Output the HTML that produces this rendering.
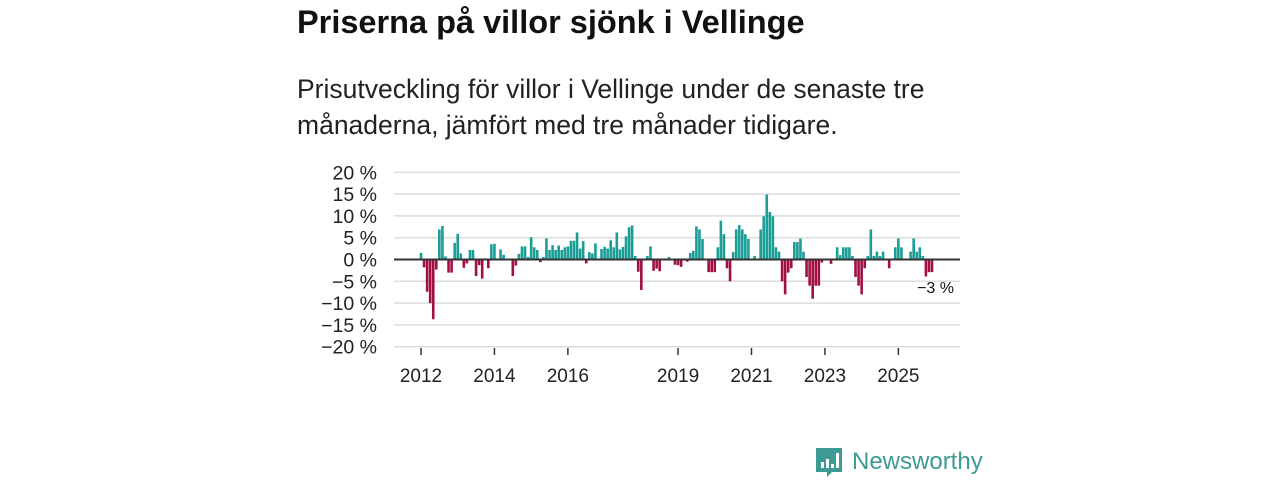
<!DOCTYPE html>
<html><head><meta charset="utf-8">
<style>
body{margin:0;background:#fff;width:1280px;height:480px;overflow:hidden;font-family:"Liberation Sans",sans-serif;color:#111}
#title{position:absolute;left:297px;top:4px;font-size:32.5px;font-weight:bold;margin:0}
#sub{position:absolute;left:297px;top:71px;font-size:26.5px;line-height:36px;width:700px;color:#222}
svg{position:absolute;left:0;top:0}
</style></head><body>
<h1 id="title">Priserna på villor sjönk i Vellinge</h1>
<div id="sub">Prisutveckling för villor i Vellinge under de senaste tre<br>månaderna, jämfört med tre månader tidigare.</div>
<svg id="chart" width="1280" height="480"></svg>
<script>
const values=[1.5,-1.8,-7.4,-10,-13.7,-2.3,6.9,7.7,0.7,-3,-3,3.8,5.9,1.4,-1.9,-0.9,2.2,2.2,-3.8,-1.3,-4.4,0,-2,3.5,3.6,0,2.3,1.1,0,0,-3.8,-1.4,1.3,3,3,0.6,5.1,2.8,2.2,-0.6,0.6,4.8,2.2,3.3,2.2,3.2,2.2,2.8,3,4.3,4.3,6.2,2.5,4.2,-0.9,1.7,1.4,3.7,0,2.4,2.9,2.5,4.4,2.8,6.2,2.3,2.9,5.3,7.4,7.8,0.8,-2.8,-7,0,0.8,3,-2.6,-2.1,-2.7,0,0,0.6,0,-1.2,-1.3,-1.7,0,-0.5,1.5,2,7.6,6.9,4.7,0,-2.9,-2.9,-2.9,2.8,8.9,5.8,-2,-5,1.7,6.9,7.9,6.9,5.8,4.7,0,0.8,0,6.9,9.9,14.9,10.9,9.9,2.8,1.8,-5,-8,-3,-2,4,4,4.8,1.8,-4,-6,-9,-6,-6,-0.7,0,0,-1,0,2.8,1,2.8,2.8,2.8,0.8,-4,-6,-8,-2,0.8,6.9,0.8,1.8,0.8,1.8,0,-2,0,2.8,4.8,2.8,0,0,1.8,4.8,1.8,2.8,0.8,-3.9,-2.9,-2.9];
const yTicks=[20,15,10,5,0,-5,-10,-15,-20];
const yTickLabels=["20 %","15 %","10 %","5 %","0 %","−5 %","−10 %","−15 %","−20 %"];
const xTicks=[2012,2014,2016,2019,2021,2023,2025];
const lastLabel="−3 %";
const NS="http://www.w3.org/2000/svg";
const svg=document.getElementById('chart');
const y=v=>259.5-v*4.36;
const x=m=>421+m*3.06; // month index from Jan 2012
function mk(t,a){const e=document.createElementNS(NS,t);for(const k in a)e.setAttribute(k,a[k]);svg.appendChild(e);return e;}
yTicks.forEach((t,i)=>{
  const g=mk('line',{x1:394,x2:960,y1:y(t),y2:y(t),stroke:'#dcdcdc','stroke-width':1.5});
  
  
  const l=mk('text',{x:377,y:y(t)+7,'text-anchor':'end','font-size':19.5,fill:'#222','font-family':'Liberation Sans, sans-serif'});
  l.textContent=yTickLabels[i];
  
  
});
xTicks.forEach(yr=>{
  const px=x((yr-2012)*12);
  const t=mk('line',{x1:px,x2:px,y1:348,y2:355,stroke:'#333','stroke-width':1.5});
  
  
  const l=mk('text',{x:px,y:382,'text-anchor':'middle','font-size':19,fill:'#222','font-family':'Liberation Sans, sans-serif'});
  l.textContent=yr;
  
  
});
values.forEach((v,m)=>{
  if(v===0)return;
  const b=mk('rect',{x:x(m)-1.3,width:2.6,y:Math.min(y(v),y(0)),height:Math.abs(y(v)-y(0)),fill:v>0?'#1a9d95':'#a10f45'});
  
  
});
const z=mk('line',{x1:394,x2:960,y1:y(0),y2:y(0),stroke:'#333','stroke-width':2});


const ll=mk('text',{x:954,y:293,'text-anchor':'end','font-size':16,fill:'#111','font-family':'Liberation Sans, sans-serif'});
ll.textContent=lastLabel;


// logo
const logo=mk('g',{});


const ic=document.createElementNS(NS,'path');
ic.setAttribute('d','M816 448h26v24h-10l-5 5v-5h-11z');ic.setAttribute('fill','#3d9b93');logo.appendChild(ic);
[[821,462,3,6],[826,459,3,9],[831,464,3,4],[836,453,3,15]].forEach(r=>{const e=document.createElementNS(NS,'rect');e.setAttribute('x',r[0]);e.setAttribute('y',r[1]);e.setAttribute('width',r[2]);e.setAttribute('height',r[3]);e.setAttribute('fill','#fff');logo.appendChild(e);});
const lt=document.createElementNS(NS,'text');
lt.setAttribute('x',852);lt.setAttribute('y',469);lt.setAttribute('font-size',24);lt.setAttribute('fill','#3d9b93');lt.setAttribute('font-family','Liberation Sans, sans-serif');
lt.textContent='Newsworthy';logo.appendChild(lt);
</script>
</body></html>
